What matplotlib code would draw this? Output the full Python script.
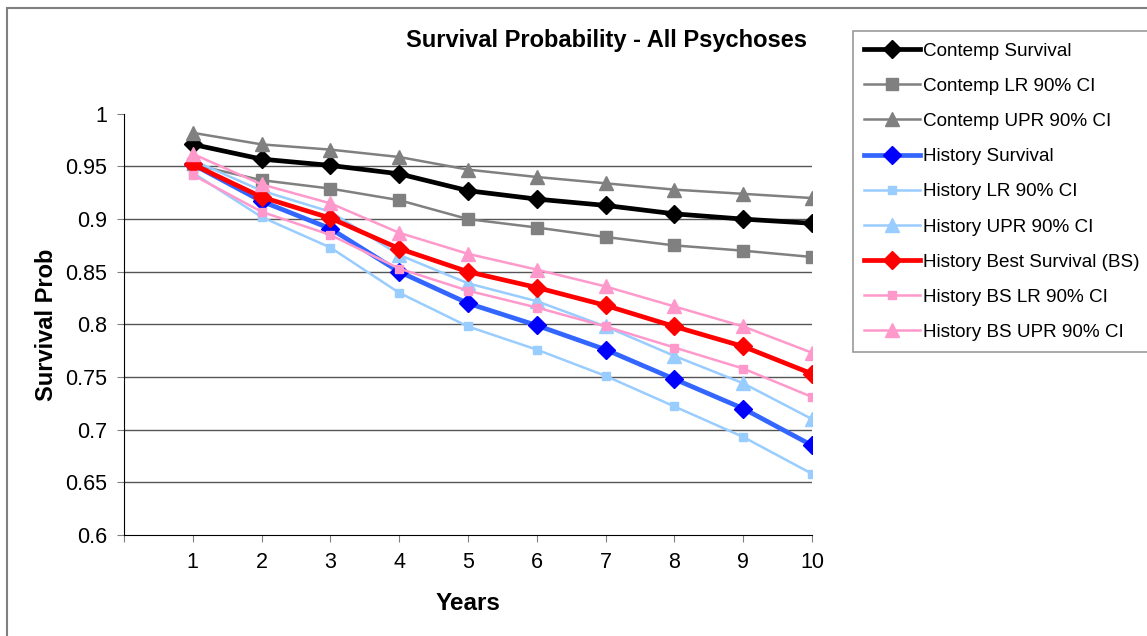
import matplotlib.pyplot as plt
from matplotlib.patches import Rectangle

plt.rcParams['font.family'] = ['Liberation Sans', 'DejaVu Sans']

# Valores (anos 1..10)
years = [1, 2, 3, 4, 5, 6, 7, 8, 9, 10]

contemp_surv = [0.971, 0.957, 0.951, 0.943, 0.927, 0.919, 0.913, 0.905, 0.900, 0.896]
contemp_lr = [0.952, 0.937, 0.929, 0.918, 0.900, 0.892, 0.883, 0.875, 0.870, 0.864]
contemp_upr = [0.982, 0.971, 0.966, 0.959, 0.947, 0.940, 0.934, 0.928, 0.924, 0.920]

hist_surv = [0.952, 0.917, 0.891, 0.850, 0.820, 0.799, 0.776, 0.748, 0.720, 0.685]
hist_lr = [0.944, 0.902, 0.873, 0.830, 0.798, 0.776, 0.751, 0.722, 0.693, 0.658]
hist_upr = [0.956, 0.927, 0.907, 0.866, 0.839, 0.822, 0.798, 0.770, 0.744, 0.710]

best_surv = [0.952, 0.921, 0.901, 0.872, 0.850, 0.835, 0.818, 0.798, 0.779, 0.753]
best_lr = [0.942, 0.907, 0.885, 0.853, 0.832, 0.816, 0.798, 0.778, 0.758, 0.731]
best_upr = [0.962, 0.933, 0.915, 0.887, 0.867, 0.852, 0.836, 0.817, 0.798, 0.773]

labels = ['Contemp Survival', 'Contemp LR 90% CI', 'Contemp UPR 90% CI',
          'History Survival', 'History LR 90% CI', 'History UPR 90% CI',
          'History Best Survival (BS)', 'History BS LR 90% CI', 'History BS UPR 90% CI']

y_ticks = [0.6, 0.65, 0.7, 0.75, 0.8, 0.85, 0.9, 0.95, 1.0]
y_tick_labels = ['0.6', '0.65', '0.7', '0.75', '0.8', '0.85', '0.9', '0.95', '1']

fig = plt.figure(figsize=(11.47, 6.36), dpi=100)
ax = fig.add_axes([0.108, 0.159, 0.600, 0.662])

gray = '#808080'
lblue = '#99CCFF'
pink = '#FF99CC'

# séries na ordem da legenda
ax.plot(years, contemp_surv, color='black', lw=3.4, marker='D', ms=9.5, label=labels[0])
ax.plot(years, contemp_lr, color=gray, lw=1.8, marker='s', ms=8.5, label=labels[1])
ax.plot(years, contemp_upr, color=gray, lw=1.8, marker='^', ms=9.5, label=labels[2])
ax.plot(years, hist_surv, color='#3366FF', lw=3.4, marker='D', ms=9.5,
        mfc='#0000FF', mec='#0000FF', label=labels[3])
ax.plot(years, hist_lr, color=lblue, lw=1.8, marker='s', ms=5.5, label=labels[4])
ax.plot(years, hist_upr, color=lblue, lw=1.8, marker='^', ms=9.5, label=labels[5])
ax.plot(years, best_surv, color='#FF0000', lw=3.4, marker='D', ms=9.5, label=labels[6])
ax.plot(years, best_lr, color=pink, lw=1.8, marker='s', ms=5.5, label=labels[7])
ax.plot(years, best_upr, color=pink, lw=1.8, marker='^', ms=9.5, label=labels[8])

ax.set_xlim(0, 10)
ax.set_ylim(0.6, 1.0)
ax.set_xticks(range(0, 11))
ax.set_xticklabels([''] + [str(y) for y in years], fontsize=15.5)
ax.set_yticks(y_ticks)
ax.set_yticklabels(y_tick_labels, fontsize=15.5)
ax.tick_params(axis='both', direction='out', length=5, color=gray, pad=7)

for v in y_ticks[1:-1]:
    ax.axhline(v, color='#555555', lw=1.0, zorder=0)

for s in ['top', 'right']:
    ax.spines[s].set_visible(False)
ax.spines['left'].set_color('black')
ax.spines['bottom'].set_color('black')

ax.set_xlabel('Years', fontsize=17.5, fontweight='bold', labelpad=14)
ax.set_ylabel('Survival Prob', fontsize=17, fontweight='bold', labelpad=5)

fig.text(0.529, 0.937, 'Survival Probability - All Psychoses', ha='center', va='center',
         fontsize=17, fontweight='bold')

leg = fig.legend(loc='upper left', bbox_to_anchor=(0.7437, 0.951), fontsize=13.6,
                 frameon=True, fancybox=False, handlelength=2.95, labelspacing=0.95,
                 borderpad=0.6, handletextpad=0.15, borderaxespad=0)
leg.get_frame().set_edgecolor(gray)
leg.get_frame().set_linewidth(1.2)

# moldura externa da área do gráfico
fig.add_artist(Rectangle((7 / 1147, -0.05), 1.2, 1 - 8 / 636 + 0.05,
                         transform=fig.transFigure, fill=False, edgecolor=gray, lw=1.5))

fig.savefig('out.png', dpi=100)
